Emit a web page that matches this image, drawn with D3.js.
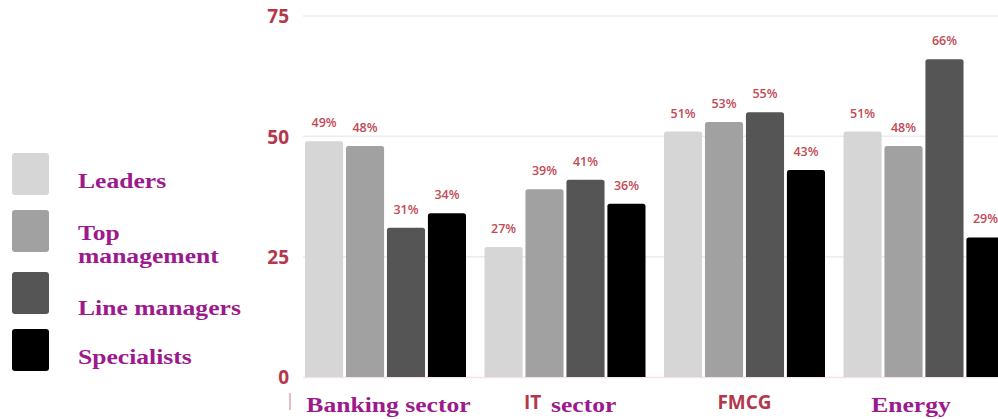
<!DOCTYPE html>
<html><head><meta charset="utf-8">
<script src="https://cdn.jsdelivr.net/npm/d3@7/dist/d3.min.js"></script>
<style>body{margin:0;background:#fff}svg{display:block}</style>
</head><body>
<svg id="c" width="998" height="419"></svg>
<script>
const categories = ["Banking sector", "IT sector", "FMCG", "Energy"];
const series = ["Leaders", "Top management", "Line managers", "Specialists"];
const leaders = [49, 27, 51, 51];
const topManagement = [48, 39, 53, 48];
const lineManagers = [31, 41, 55, 66];
const specialists = [34, 36, 43, 29];
const yTicks = [0, 25, 50, 75];
const colors = ["#d6d6d6", "#a1a1a1", "#555555", "#000000"];

const values = [leaders, topManagement, lineManagers, specialists];
const svg = d3.select("#c");
const W = 998;

const y = d3.scaleLinear().domain([0, 75]).range([377, 16]);
const x0 = d3.scaleBand().domain(categories).range([305, 1004.5]).paddingInner(0.103).paddingOuter(0);
const x1 = d3.scaleBand().domain(series).range([0, x0.bandwidth()]).paddingInner(0.07).paddingOuter(0);

// gridlines
svg.append("g").selectAll("line").data(yTicks.filter(d => d > 0)).join("line")
  .attr("x1", 303).attr("x2", W).attr("y1", d => y(d)).attr("y2", d => y(d))
  .attr("stroke", "#ececec").attr("stroke-width", 1.5);
svg.append("line").attr("x1", 303).attr("x2", W).attr("y1", y(0) + 0.5).attr("y2", y(0) + 0.5)
  .attr("stroke", "#f3e4e6").attr("stroke-width", 1.5);

// y axis labels
const yAxis = d3.axisLeft(y).tickValues(yTicks).tickSize(0).tickPadding(0);
const ga = svg.append("g").attr("transform", "translate(289,0)").call(yAxis);
ga.select(".domain").remove();
ga.selectAll("text").attr("font-family", "'Open Sans', sans-serif").attr("font-weight", "bold")
  .attr("font-size", 19).attr("fill", "#b4384c").attr("dy", "0.36em");

// bars
const groups = svg.append("g").selectAll("g").data(categories).join("g")
  .attr("transform", d => `translate(${x0(d)},0)`);
function topRounded(x, yTop, w, h, r) {
  return `M${x},${yTop + h}V${yTop + r}Q${x},${yTop} ${x + r},${yTop}H${x + w - r}Q${x + w},${yTop} ${x + w},${yTop + r}V${yTop + h}Z`;
}
groups.each(function (cat, ci) {
  const g = d3.select(this);
  const d = series.map((s, si) => ({ s, si, v: values[si][ci] }));
  g.selectAll("path").data(d).join("path")
    .attr("d", e => topRounded(x1(e.s), y(e.v), x1.bandwidth(), y(0) - y(e.v), 2.5))
    .attr("fill", e => colors[e.si]);
  g.selectAll("text").data(d).join("text")
    .attr("x", e => x1(e.s) + x1.bandwidth() / 2)
    .attr("y", e => y(e.v) - 14)
    .attr("text-anchor", "middle")
    .attr("font-family", "'Open Sans', sans-serif").attr("font-size", 12.5).attr("font-weight", 600)
    .attr("fill", "#c24a55")
    .text(e => e.v + "%");
});

// category labels
const serifStyle = s => s.attr("font-family", "'Liberation Serif', 'Times New Roman', serif")
  .attr("font-weight", "bold").attr("font-size", 21).attr("fill", "#9c1a8c");
function serifText(xp, yp, t, anchor) {
  const g = svg.append("g").attr("transform", `translate(${xp},${yp}) scale(1.22,1)`);
  serifStyle(g.append("text").attr("text-anchor", anchor || "start").text(t));
}
const cx = c => x0(c) + x0.bandwidth() / 2;
serifText(cx("Banking sector") + 3, 412, "Banking sector", "middle");
svg.append("text").attr("x", cx("IT sector") - 41).attr("y", 409)
  .attr("font-family", "'Open Sans', sans-serif").attr("font-weight", "bold").attr("font-size", 19)
  .attr("fill", "#b4384c").text("IT");
serifText(cx("IT sector") - 14, 412, "sector", "start");
svg.append("text").attr("x", cx("FMCG")).attr("y", 409).attr("text-anchor", "middle")
  .attr("font-family", "'Open Sans', sans-serif").attr("font-weight", "bold").attr("font-size", 19)
  .attr("fill", "#b4384c").text("FMCG");
serifText(cx("Energy") - 13, 412, "Energy", "middle");
svg.append("line").attr("x1", 290).attr("x2", 290).attr("y1", 393).attr("y2", 410)
  .attr("stroke", "#e4a3ab").attr("stroke-width", 1.5);

// legend
const legY = [153, 210, 272, 329];
const leg = svg.append("g");
leg.selectAll("rect").data(series).join("rect")
  .attr("x", 12).attr("y", (d, i) => legY[i]).attr("width", 37).attr("height", 42)
  .attr("rx", 3).attr("fill", (d, i) => colors[i]);
serifText(78, 188, "Leaders");
serifText(78, 240, "Top");
serifText(78, 263, "management");
serifText(78, 315, "Line managers");
serifText(78, 364, "Specialists");
</script>
</body></html>
